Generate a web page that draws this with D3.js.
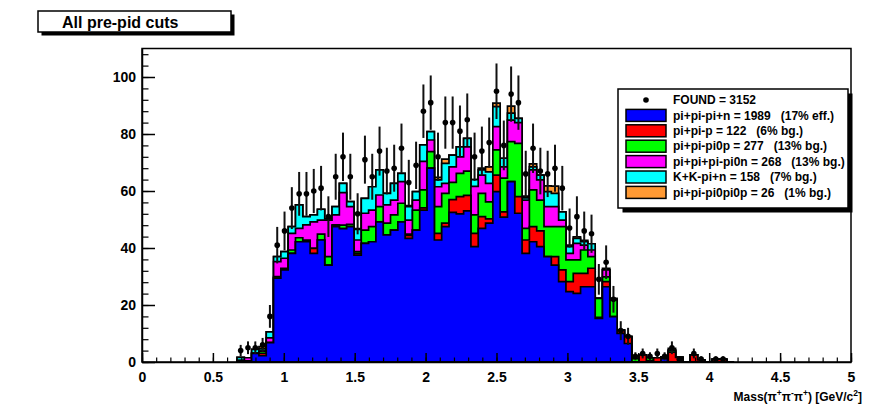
<!DOCTYPE html>
<html>
<head>
<meta charset="utf-8">
<script src="https://cdn.jsdelivr.net/npm/d3@7"></script>
<style>
  html, body { margin: 0; padding: 0; background: #fff; }
  svg { display: block; }
  text { font-family: "Liberation Sans", Arial, Helvetica, sans-serif; font-weight: bold; fill: #000; }
</style>
</head>
<body>
<svg id="chart" width="888" height="411"></svg>
<script>
// Binning of the mass histogram: 97 bins over 0-5 GeV/c^2, filled bins start at bin 13
const nBinsAxis = 97;
const binWidth = 5 / nBinsAxis;
const firstBin = 13;
const binStart = firstBin * binWidth;

// Stacked Monte Carlo components, one value per bin from the first filled bin
const blue = [0.5, 0, 3.0, 2.2, 6.8,
  29.4, 32.3, 38.1, 42.2, 42.2, 38.1, 42.8, 34.0, 47.5,
  46.8, 47.5, 37.5, 41.6, 42.2, 49.2, 44.6, 46.3, 49.2,
  43.4, 46.3, 53.3, 68.0, 42.8, 47.5, 52.5, 52.0, 53.0,
  40.5, 46.9, 48.7, 59.8, 50.8, 63.3, 52.2, 38.1, 42.2,
  40.5, 37.0, 34.0, 28.2, 24.7, 24.1, 26.4, 26.4, 15.3,
  26.4, 15.9, 10.0, 6.5,
  0, 0, 0, 0, 1.2, 0, 0, 0, 0, 0, 0, 0, 0, 0];
const red = [0, 0.4, 0, 0.8, 0,
  0, 0, 0, 0, 0.5, 1.8, 0, 0, 0.3,
  0, 0, 0.6, 0, 0, 0, 0, 0, 0,
  1.0, 0, 0.8, 0, 2.3, 1.2, 4.5, 6.0, 5.5,
  4.6, 4.1, 1.5, 5.8, 1.9, 0, 5.8, 4.7, 5.3,
  5.5, 0, 3.0, 4.1, 3.5, 7.0, 4.7, 6.5, 0.4,
  1.8, 0, 1.2, 2.4,
  0, 2.5, 0.5, 1.5, 0.5, 3.5, 1.6, 0, 2.5, 0.7, 0, 0.9, 0.9, 0];
const green = [0, 0, 0, 0.8, 0,
  0.6, 0.6, 1.2, 1.4, 0, 0, 2.1, 3.0, 0.3,
  1.2, 0.8, 0.6, 4.7, 5.3, 5.3, 4.1, 5.3, 6.5,
  0.5, 7.0, 6.3, 5.8, 9.4, 10.5, 6.0, 8.2, 8.5,
  6.5, 8.2, 6.0, 8.8, 11.8, 14.0, 18.7, 4.1, 12.9,
  10.8, 10.5, 10.5, 15.2, 7.6, 4.7, 8.2, 4.1, 6.6,
  1.7, 5.9, 0, 0,
  1.2, 0, 1.0, 0, 0, 0.6, 0, 0, 0, 0, 0, 0, 0, 0];
const magenta = [0, 1.1, 0, 0, 1.7,
  5.2, 3.5, 5.8, 3.3, 5.4, 9.3, 4.9, 12.8, 3.5,
  11.4, 6.2, 4.1, 5.9, 5.8, 4.1, 6.4, 5.2, 7.6,
  4.9, 3.5, 10.0, 4.1, 7.0, 3.5, 5.5, 5.8, 8.5,
  10.0, 6.4, 6.5, 8.2, 4.0, 7.6, 7.3, 9.9, 7.0,
  7.1, 7.0, 7.0, 2.3, 2.3, 5.8, 1.7, 2.3, 0,
  2.4, 0, 0, 0,
  0, 0, 0, 0, 0, 0, 0, 0, 0, 0, 0, 0, 0, 0];
const cyan = [1.1, 0, 1.4, 0.8, 2.1,
  1.8, 2.3, 2.4, 8.2, 2.9, 2.4, 3.8, 0.4, 2.9,
  3.3, 1.8, 3.7, 5.2, 8.2, 8.8, 4.1, 5.9, 2.9,
  4.7, 3.0, 5.8, 2.9, 2.4, 7.0, 4.1, 3.5, 3.0,
  2.4, 1.8, 4.0, 7.0, 3.0, 2.4, 1.5, 0.8, 1.1,
  1.7, 5.3, 4.7, 2.9, 2.4, 1.8, 1.2, 2.2, 0,
  0, 0, 0, 0,
  0, 0, 0, 0, 0, 0, 0, 0, 0, 0, 0, 0, 0, 0];
const orange = [0, 0, 0, 0.8, 0,
  0, 0, 0, 0, 0, 0, 0, 0, 0,
  0, 0, 0.3, 0, 0, 0, 0, 0, 0,
  0.4, 0, 0, 0, 0.9, 1.5, 0, 0, 0,
  0, 0.6, 1.8, 1.2, 0, 2.5, 0, 0.6, 1.0,
  0, 2.0, 2.5, 0, 0.5, 0.5, 0.5, 0, 0,
  0.6, 0.5, 0, 0,
  0, 0, 0, 0, 0, 0.7, 0, 0, 0, 0, 0, 0, 0, 0];

// Observed events per bin
const found = [4, 5, 5, 6, 16,
  41, 46, 54, 59, 59, 60, 61, 51, 65,
  72, 65, 52, 71, 65, 74, 67, 68, 75,
  63, 69, 88, 91, 72, 84, 84, 81, 85,
  72, 74, 77, 95, 76, 94, 91, 66, 75,
  67, 66, 68, 61, 47, 51, 46, 45, 29,
  35, 22, 11, 9,
  2, 3, 2, 3, 2, 5, 1, 0, 3, 1, 0, 1, 1, 0];

// Legend entries and colours, bottom of the stack first
const seriesNames = ["pi+pi-pi+n = 1989   (17% eff.)", "pi+pi-p = 122   (6% bg.)",
  "pi+pi-pi0p = 277   (13% bg.)", "pi+pi+pi-pi0n = 268   (13% bg.)",
  "K+K-pi+n = 158   (7% bg.)", "pi+pi-pi0pi0p = 26   (1% bg.)"];
const seriesColors = ["#0000ff", "#ff0000", "#00ff00", "#ff00ff", "#00ffff", "#ff9933"];
const foundLabel = "FOUND = 3152";
const titleText = "All pre-pid cuts";

// Axis ticks
const xMajor = [0, 0.5, 1, 1.5, 2, 2.5, 3, 3.5, 4, 4.5, 5];
const xMinor = d3.range(0, 5.0001, 0.1);
const yMajor = [0, 20, 40, 60, 80, 100];
const yMinor = d3.range(0, 110.001, 4);

const frame = { left: 142, right: 851, top: 48.5, bottom: 362 };

const svg = d3.select("#chart");
const x = d3.scaleLinear().domain([0, 5]).range([frame.left, frame.right]);
const y = d3.scaleLinear().domain([0, 110]).range([frame.bottom, frame.top]);

// Cumulative stack
const layers = [blue, red, green, magenta, cyan, orange];
const cum = [];
layers.forEach((arr, k) => {
  cum.push(arr.map((v, i) => v + (k > 0 ? cum[k - 1][i] : 0)));
});

const nBins = blue.length;
const edges = d3.range(nBins + 1).map(i => binStart + i * binWidth);

const area = d3.area()
  .x(d => x(d.e))
  .y0(y(0))
  .y1(d => y(d.v))
  .curve(d3.curveStepAfter);

const plot = svg.append("g");
for (let k = layers.length - 1; k >= 0; k--) {
  const pts = edges.map((e, i) => ({ e: e, v: i < nBins ? cum[k][i] : cum[k][nBins - 1] }));
  plot.append("path")
    .attr("d", area(pts))
    .attr("fill", seriesColors[k])
    .attr("stroke", "#000")
    .attr("stroke-width", 1.7)
    .attr("stroke-linejoin", "miter");
}

// Data points with Poisson error bars
const pts = found.map((n, i) => ({ c: binStart + (i + 0.5) * binWidth, n: n })).filter(d => d.n > 0);
const dataG = svg.append("g");
dataG.selectAll("line.err").data(pts).enter().append("line")
  .attr("x1", d => x(d.c)).attr("x2", d => x(d.c))
  .attr("y1", d => y(d.n + Math.sqrt(d.n)))
  .attr("y2", d => y(Math.max(0, d.n - Math.sqrt(d.n))))
  .attr("stroke", "#111").attr("stroke-width", 2);
dataG.selectAll("circle").data(pts).enter().append("circle")
  .attr("cx", d => x(d.c)).attr("cy", d => y(d.n))
  .attr("r", 2.8).attr("fill", "#000");

// Frame
svg.append("rect")
  .attr("x", frame.left).attr("y", frame.top)
  .attr("width", frame.right - frame.left).attr("height", frame.bottom - frame.top)
  .attr("fill", "none").attr("stroke", "#000").attr("stroke-width", 1.5);

// X axis
const xAxis = svg.append("g").attr("transform", `translate(0,${frame.bottom})`)
  .call(d3.axisBottom(x).tickValues(xMajor).tickSizeInner(-9).tickSizeOuter(0)
    .tickPadding(10).tickFormat(d3.format("")));
xAxis.select(".domain").attr("stroke-width", 1.5);
xAxis.selectAll(".tick line").attr("stroke-width", 1.5);
xAxis.selectAll("text").attr("font-size", 14).attr("font-family", null);
svg.append("g").attr("transform", `translate(0,${frame.bottom})`)
  .call(d3.axisBottom(x).tickValues(xMinor).tickSizeInner(-4.5).tickSizeOuter(0).tickFormat(""))
  .call(g => g.select(".domain").remove())
  .selectAll(".tick line").attr("stroke-width", 1.2);

// Y axis
const yAxis = svg.append("g").attr("transform", `translate(${frame.left},0)`)
  .call(d3.axisLeft(y).tickValues(yMajor).tickSizeInner(-13).tickSizeOuter(0).tickPadding(6));
yAxis.select(".domain").attr("stroke-width", 1.5);
yAxis.selectAll(".tick line").attr("stroke-width", 1.5);
yAxis.selectAll("text").attr("font-size", 14).attr("font-family", null);
svg.append("g").attr("transform", `translate(${frame.left},0)`)
  .call(d3.axisLeft(y).tickValues(yMinor).tickSizeInner(-6.5).tickSizeOuter(0).tickFormat(""))
  .call(g => g.select(".domain").remove())
  .selectAll(".tick line").attr("stroke-width", 1.2);

// X axis title with superscripts
const xt = svg.append("text").attr("x", 862).attr("y", 401).attr("text-anchor", "end").attr("font-size", 12);
const parts = [["Mass(\u03c0", 0], ["+", 1], ["\u03c0", -1], ["-", 1], ["\u03c0", -1], ["+", 1],
  [") [GeV/c", -1], ["2", 1], ["]", -1]];
parts.forEach(([t, s]) => {
  const ts = xt.append("tspan").text(t);
  if (s === 1) ts.attr("dy", -5).attr("font-size", 8.5);
  else if (s === -1) ts.attr("dy", 5);
});

// Title box
const tb = { x: 38, y: 11, w: 193, h: 21 };
svg.append("rect").attr("x", tb.x + 3.5).attr("y", tb.y + 3.5).attr("width", tb.w).attr("height", tb.h).attr("fill", "#000");
svg.append("rect").attr("x", tb.x).attr("y", tb.y).attr("width", tb.w).attr("height", tb.h)
  .attr("fill", "#fff").attr("stroke", "#000").attr("stroke-width", 1.5);
svg.append("text").attr("x", 62).attr("y", tb.y + 16.5)
  .attr("font-size", 16).text(titleText);

// Legend
const lg = { x: 618, y: 89, w: 230, h: 119 };
svg.append("rect").attr("x", lg.x + 4.5).attr("y", lg.y + 4.5).attr("width", lg.w).attr("height", lg.h).attr("fill", "#000");
svg.append("rect").attr("x", lg.x).attr("y", lg.y).attr("width", lg.w).attr("height", lg.h)
  .attr("fill", "#fff").attr("stroke", "#000").attr("stroke-width", 1.5);
const rowY = i => lg.y + 11 + i * 15.4;
svg.append("circle").attr("cx", 646).attr("cy", rowY(0)).attr("r", 2.8).attr("fill", "#000");
svg.append("text").attr("x", 673).attr("y", rowY(0) + 4.2).attr("font-size", 12)
  .style("white-space", "pre").text(foundLabel);
seriesNames.forEach((name, k) => {
  const cy = rowY(k + 1);
  svg.append("rect").attr("x", 626).attr("y", cy - 6).attr("width", 40).attr("height", 12)
    .attr("fill", seriesColors[k]).attr("stroke", "#000").attr("stroke-width", 1.5);
  svg.append("text").attr("x", 673).attr("y", cy + 4.2).attr("font-size", 12)
    .style("white-space", "pre").text(name);
});
</script>
</body>
</html>
